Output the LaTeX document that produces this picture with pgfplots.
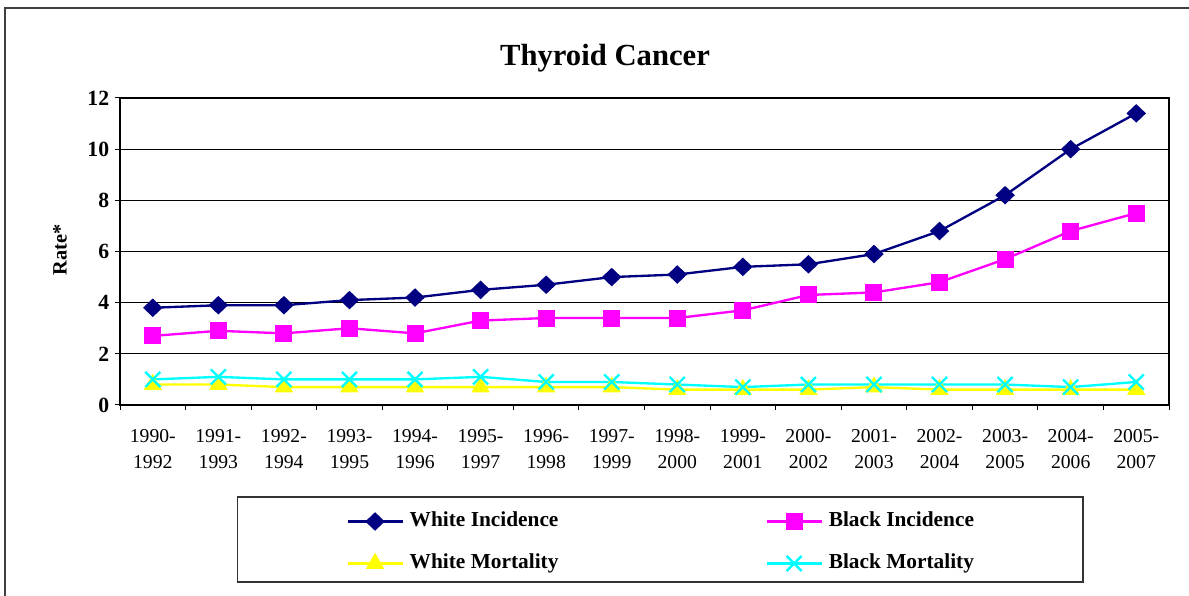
\documentclass[border=0pt]{standalone}
\usepackage{pgfplots}
\pgfplotsset{compat=1.18}
\usepackage{fontspec}
\setmainfont{Liberation Serif}
\definecolor{wi}{RGB}{0,0,128}
\definecolor{bi}{RGB}{255,0,255}
\definecolor{wm}{RGB}{255,255,0}
\definecolor{bm}{RGB}{0,255,255}
\begin{document}
\begin{tikzpicture}
\useasboundingbox (0,0) rectangle (713.4pt,357.6pt);
\draw[line width=1.2pt, black!75] (3pt,-2pt) -- (3pt,352.8pt) -- (716pt,352.8pt);
\node[font=\bfseries\fontsize{18.4}{20}\selectfont] at (363pt,322.8pt) {Thyroid Cancer};
\node[font=\bfseries\fontsize{12.2}{14}\selectfont, rotate=90] at (36pt,207.6pt) {Rate*};
\draw[line width=0.8pt, black!80] (142.6pt,8.4pt) rectangle (649.8pt,59.4pt);
\begin{axis}[
  at={(72pt,114.6pt)}, anchor=south west,
  scale only axis, width=629.4pt, height=184.2pt,
  xmin=-0.5, xmax=15.5, ymin=0, ymax=12,
  ytick={0,2,...,12},
  xtick={-0.5,0.5,...,15.5},
  xticklabels={{1990-\\1992},{1991-\\1993},{1992-\\1994},{1993-\\1995},{1994-\\1996},{1995-\\1997},{1996-\\1998},{1997-\\1999},{1998-\\2000},{1999-\\2001},{2000-\\2002},{2001-\\2003},{2002-\\2004},{2003-\\2005},{2004-\\2006},{2005-\\2007},{}},
  xticklabel style={align=center, font=\fontsize{11.8}{15.6}\selectfont, xshift=19.67pt, yshift=-8pt},
  yticklabel style={font=\bfseries\fontsize{13}{15}\selectfont},
  /pgf/number format/assume math mode=true,
  tick pos=left,
  tick align=outside, major tick length=3pt,
  tick style={black, line width=0.6pt},
  ymajorgrids, grid style={black, line width=0.5pt},
  axis line style={line width=1.2pt},
  clip=false,
  legend columns=2,
  legend style={at={(axis description cs:0.2155,-0.3458)}, anchor=north west,
    draw=none, fill=none, inner sep=0pt, row sep=13.2pt,
    nodes={inner xsep=3.6pt, inner ysep=0pt, text height=9pt, text depth=3pt, font=\bfseries\fontsize{12.8}{14}\selectfont},
    /tikz/every even column/.append style={column sep=120.6pt}},
  legend image code/.code={\draw[mark repeat=2,mark phase=2,#1] plot coordinates {(0pt,0pt) (16.5pt,0pt) (33pt,0pt)};},
]
\addplot[wi, line width=1.4pt, mark=diamond*, mark size=4.6pt, mark options={xscale=1.4, solid, fill=wi}] coordinates {
(0,3.8)(1,3.9)(2,3.9)(3,4.1)(4,4.2)(5,4.5)(6,4.7)(7,5.0)(8,5.1)(9,5.4)(10,5.5)(11,5.9)(12,6.8)(13,8.2)(14,10.0)(15,11.4)};
\addlegendentry{White Incidence}
\addplot[bi, line width=1.4pt, mark=square*, mark size=4.4pt, mark options={solid, fill=bi}] coordinates {
(0,2.7)(1,2.9)(2,2.8)(3,3.0)(4,2.8)(5,3.3)(6,3.4)(7,3.4)(8,3.4)(9,3.7)(10,4.3)(11,4.4)(12,4.8)(13,5.7)(14,6.8)(15,7.5)};
\addlegendentry{Black Incidence}
\addplot[wm, line width=1.4pt, mark=triangle*, mark size=5pt, mark options={solid, fill=wm}] coordinates {
(0,0.8)(1,0.8)(2,0.7)(3,0.7)(4,0.7)(5,0.7)(6,0.7)(7,0.7)(8,0.6)(9,0.6)(10,0.6)(11,0.7)(12,0.6)(13,0.6)(14,0.6)(15,0.6)};
\addlegendentry{White Mortality}
\addplot[bm, line width=1.4pt, mark=x, mark size=6.4pt, mark options={solid, line width=1.4pt}] coordinates {
(0,1.0)(1,1.1)(2,1.0)(3,1.0)(4,1.0)(5,1.1)(6,0.9)(7,0.9)(8,0.8)(9,0.7)(10,0.8)(11,0.8)(12,0.8)(13,0.8)(14,0.7)(15,0.9)};
\addlegendentry{Black Mortality}
\end{axis}
\end{tikzpicture}
\end{document}
